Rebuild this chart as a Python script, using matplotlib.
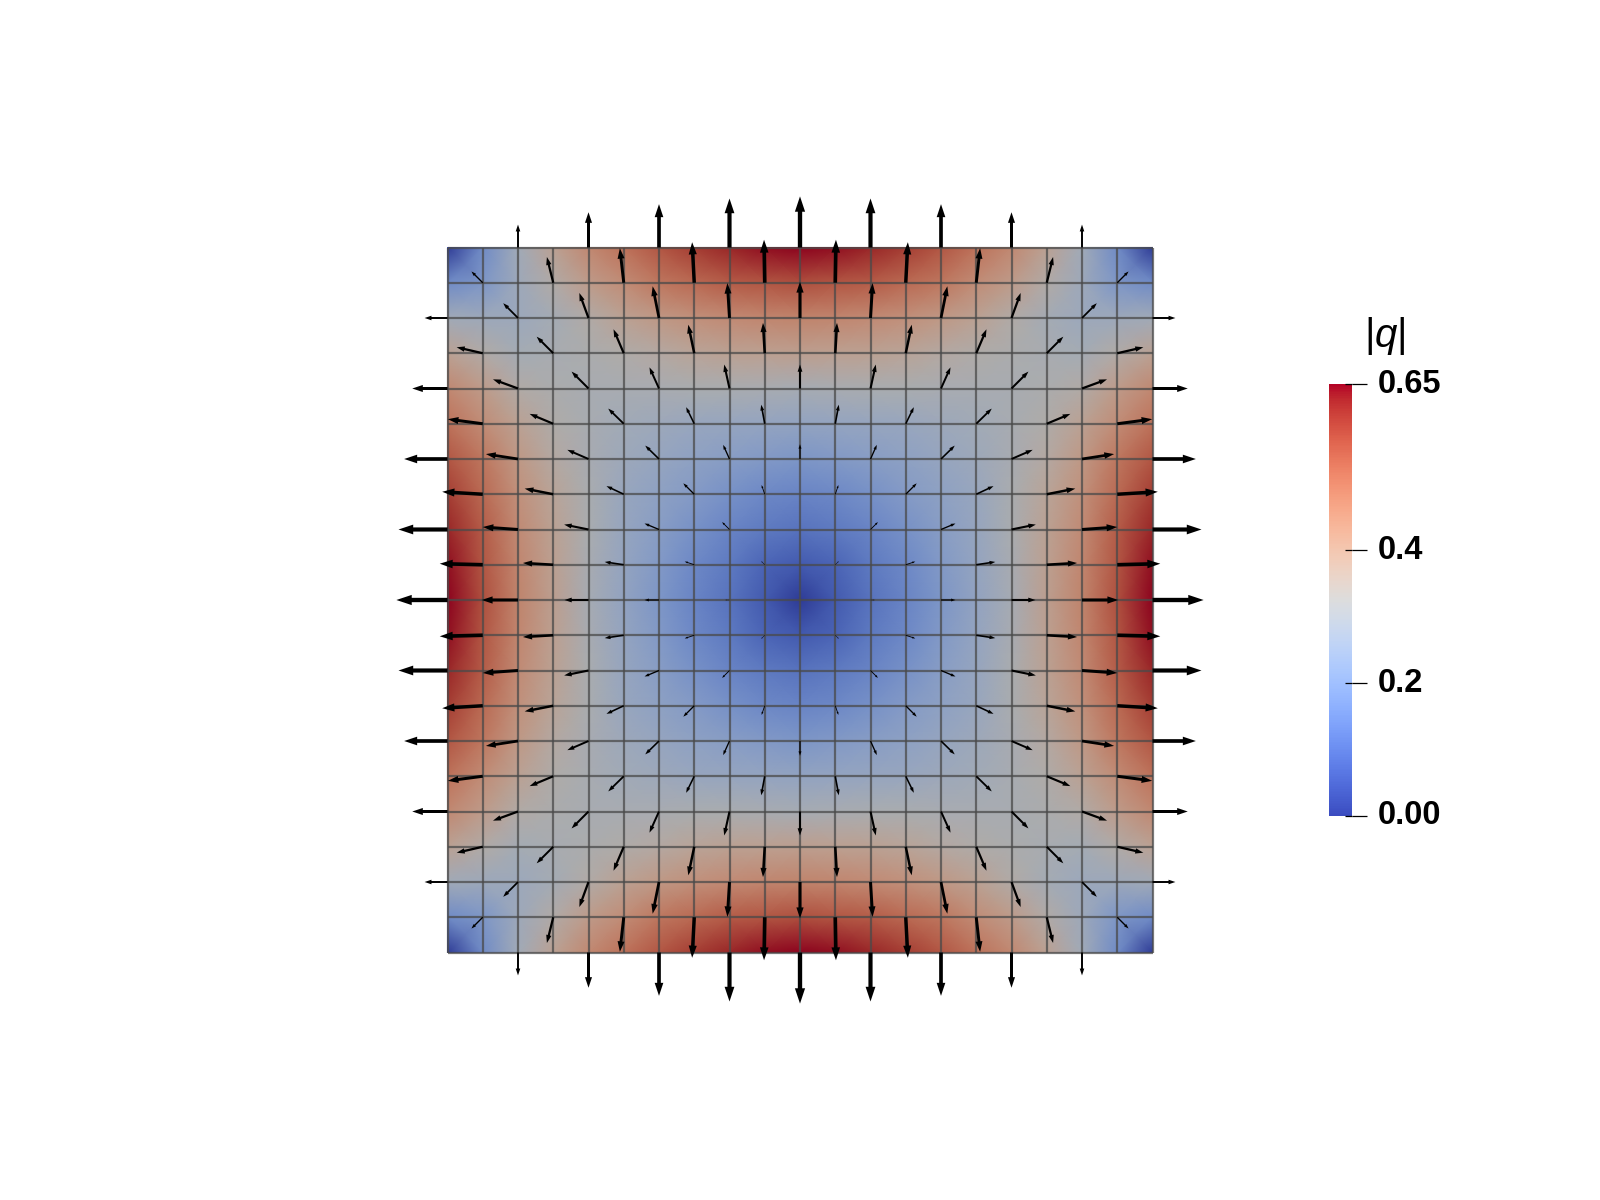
from matplotlib import pyplot as plt
from matplotlib.colors import LinearSegmentedColormap
from matplotlib.cm import ScalarMappable
from matplotlib.colors import Normalize
import numpy as np

plt.rcParams["font.family"] = ["Liberation Sans", "DejaVu Sans"]
plt.rcParams["mathtext.fontset"] = "custom"
plt.rcParams["mathtext.rm"] = "Liberation Sans"
plt.rcParams["mathtext.it"] = "Liberation Sans:italic"

# |q| at the mesh nodes: top left quarter, rows top to centre
q_row0 = [0.00, 0.17, 0.29, 0.38, 0.45, 0.50, 0.55, 0.59, 0.62, 0.64, 0.65]
q_row1 = [0.17, 0.20, 0.28, 0.34, 0.40, 0.44, 0.49, 0.515, 0.54, 0.55, 0.56]
q_row2 = [0.29, 0.28, 0.275, 0.30, 0.34, 0.38, 0.41, 0.43, 0.445, 0.455, 0.46]
q_row3 = [0.38, 0.34, 0.30, 0.31, 0.32, 0.335, 0.35, 0.37, 0.38, 0.385, 0.39]
q_row4 = [0.45, 0.40, 0.34, 0.32, 0.31, 0.31, 0.31, 0.315, 0.315, 0.31, 0.305]
q_row5 = [0.50, 0.44, 0.38, 0.335, 0.31, 0.29, 0.28, 0.265, 0.26, 0.255, 0.25]
q_row6 = [0.55, 0.49, 0.41, 0.35, 0.31, 0.28, 0.26, 0.24, 0.225, 0.21, 0.20]
q_row7 = [0.59, 0.515, 0.43, 0.37, 0.315, 0.265, 0.24, 0.215, 0.185, 0.16, 0.15]
q_row8 = [0.62, 0.54, 0.445, 0.38, 0.315, 0.26, 0.225, 0.185, 0.15, 0.125, 0.11]
q_row9 = [0.64, 0.55, 0.455, 0.385, 0.31, 0.255, 0.21, 0.16, 0.125, 0.08, 0.06]
q_row10 = [0.65, 0.56, 0.46, 0.39, 0.305, 0.25, 0.20, 0.15, 0.11, 0.06, 0.00]

# arrows of the same quarter: node, then outward and upward parts in mesh cells
arrow_col = [2, 4, 6, 8, 10, 1, 3, 5, 7, 9, 0, 2, 4, 6, 8, 10, 1, 3, 5, 7, 9,
             0, 2, 4, 6, 8, 10, 1, 3, 5, 7, 9, 0, 2, 4, 6, 8, 10,
             1, 3, 5, 7, 9, 0, 2, 4, 6, 8, 1, 3, 5, 7, 9, 0, 2, 4, 6, 8]
arrow_row = [0, 0, 0, 0, 0, 1, 1, 1, 1, 1, 2, 2, 2, 2, 2, 2, 3, 3, 3, 3, 3,
             4, 4, 4, 4, 4, 4, 5, 5, 5, 5, 5, 6, 6, 6, 6, 6, 6,
             7, 7, 7, 7, 7, 8, 8, 8, 8, 8, 9, 9, 9, 9, 9, 10, 10, 10, 10, 10]
arrow_out = [0, 0, 0, 0, 0, 0.32, 0.18, 0.11, 0.06, 0.02, 0.65, 0.42, 0.26, 0.18, 0.06, 0,
             0.74, 0.47, 0.29, 0.17, 0.05, 1.0, 0.71, 0.48, 0.27, 0.15, 0,
             0.99, 0.67, 0.44, 0.23, 0.10, 1.23, 0.91, 0.60, 0.39, 0.18, 0,
             1.15, 0.81, 0.49, 0.31, 0.09, 1.39, 1.0, 0.69, 0.41, 0.21,
             1.22, 0.86, 0.54, 0.27, 0.10, 1.45, 1.03, 0.68, 0.41, 0.12]
arrow_up = [0.65, 1.0, 1.23, 1.39, 1.45, 0.32, 0.73, 0.98, 1.15, 1.22, 0, 0.42, 0.71, 0.90, 0.99, 1.03,
            0.17, 0.47, 0.68, 0.81, 0.86, 0, 0.26, 0.48, 0.60, 0.68, 0.68,
            0.13, 0.28, 0.43, 0.47, 0.54, 0, 0.14, 0.26, 0.38, 0.40, 0.42,
            0.07, 0.16, 0.23, 0.31, 0.26, 0, 0.07, 0.14, 0.17, 0.21,
            0.03, 0.05, 0.08, 0.09, 0.10, 0, 0, 0, 0, 0]

tick_values = [0.0, 0.2, 0.4, 0.65]
tick_labels = ["0.00", "0.2", "0.4", "0.65"]
q_max = 0.65

quarter = np.array([q_row0, q_row1, q_row2, q_row3, q_row4, q_row5,
                    q_row6, q_row7, q_row8, q_row9, q_row10])
upper = np.hstack([quarter, quarter[:, -2::-1]])
q_nodes = np.vstack([upper, upper[-2::-1]])

# the mesh is darker than the colour bar because of the lighting in the render
shade = 0.78
base = plt.get_cmap("coolwarm")(np.linspace(0, 1, 256))
base[:, :3] *= shade
lit_cmap = LinearSegmentedColormap.from_list("lit_coolwarm", base)

fig = plt.figure(figsize=(16, 12), dpi=100)
ax = fig.add_axes([0, 0, 1, 1])
cell = 35.25  # pixels
ax.set_xlim(-800 / cell, 800 / cell)
ax.set_ylim(-600 / cell, 600 / cell)
ax.axis("off")

nodes = np.arange(-10, 11)
X, Y = np.meshgrid(nodes, nodes[::-1])
ax.pcolormesh(X, Y, q_nodes, shading="gouraud", cmap=lit_cmap, vmin=0, vmax=q_max, zorder=1)

ax.vlines(nodes, -10, 10, color="#4a4a4a", lw=1.6, alpha=0.75, zorder=2)
ax.hlines(nodes, -10, 10, color="#4a4a4a", lw=1.6, alpha=0.75, zorder=2)

for col, row, out, up in zip(arrow_col, arrow_row, arrow_out, arrow_up):
    for sx in [-1, 1] if col != 10 else [1]:
        for sy in [-1, 1] if row != 10 else [1]:
            length = np.hypot(out, up)
            ax.arrow(
                sx * (10 - col),
                sy * (10 - row),
                sx * out,
                sy * up,
                width=0.085 * length,
                head_width=0.2 * length,
                head_length=0.3 * length,
                length_includes_head=True,
                color="black",
                lw=0,
                clip_on=False,
                zorder=3,
            )

# colour bar
cax = fig.add_axes([1329 / 1600, 1 - 816 / 1200, 23 / 1600, 432 / 1200])
cb = fig.colorbar(
    ScalarMappable(norm=Normalize(0, q_max), cmap="coolwarm"), cax=cax, ticks=tick_values
)
cb.outline.set_visible(False)
cb.ax.set_yticklabels(tick_labels, fontsize=23.5, fontweight="bold", va="center")
cb.ax.tick_params(length=10.5, width=0.9, pad=8, color="black")
cax.hlines(tick_values, 0.7, 1, color="black", lw=0.9, clip_on=False)
fig.text(1385 / 1600, 1 - 336 / 1200, r"$|q|$", fontsize=29, ha="center", va="center")

plt.savefig("out.png", dpi=100)
